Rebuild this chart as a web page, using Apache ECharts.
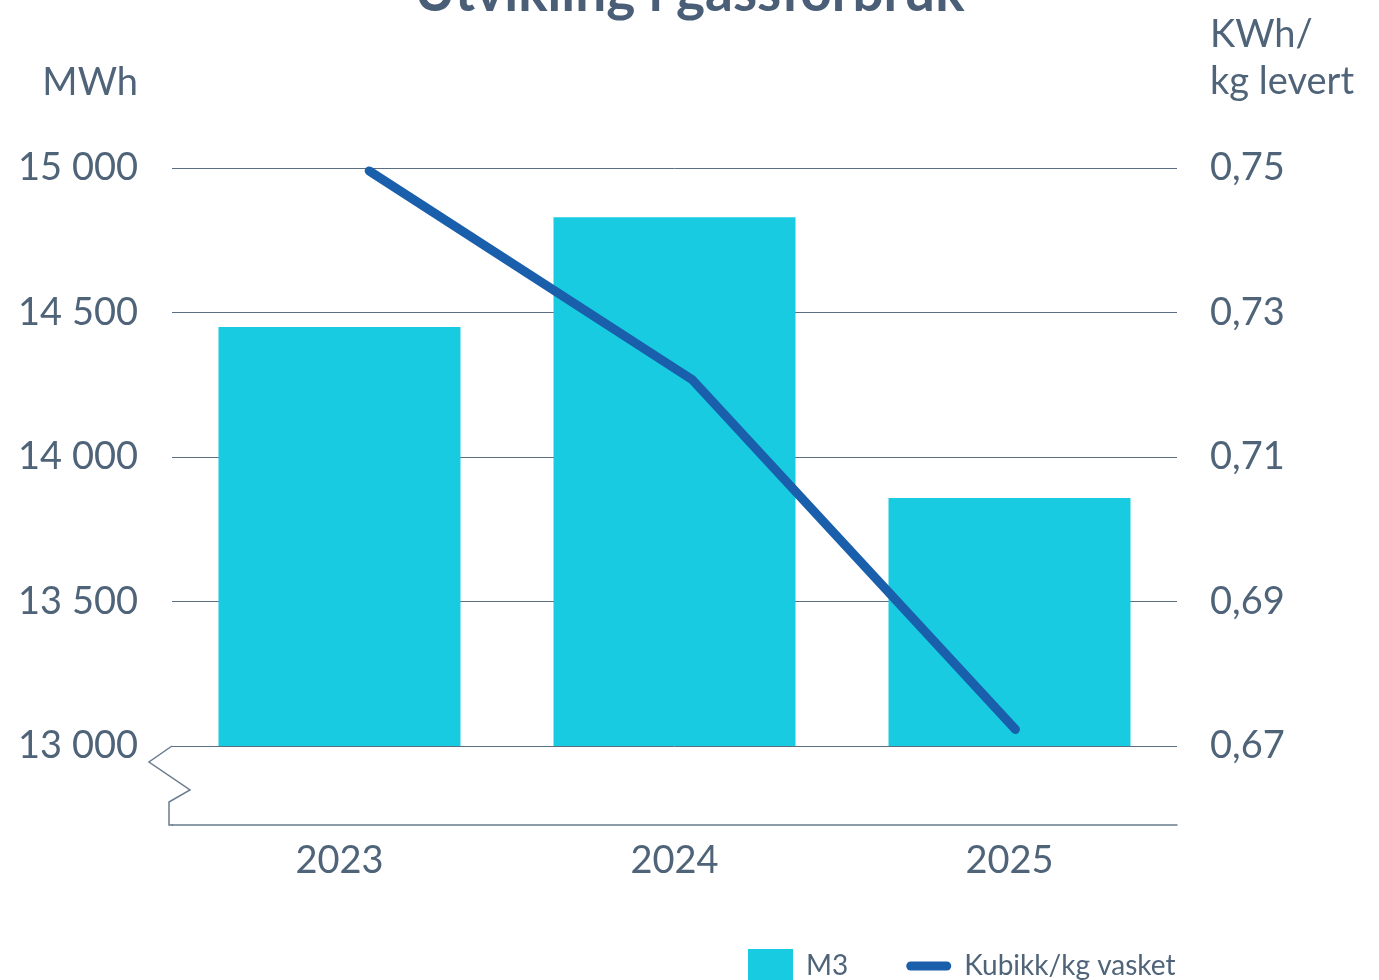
<!DOCTYPE html>
<html>
<head>
<meta charset="utf-8">
<script src="https://cdn.jsdelivr.net/npm/echarts@6/dist/echarts.min.js"></script>
<style>
html,body{margin:0;padding:0;background:#fff;}
#chart{width:1379px;height:980px;}
</style>
</head>
<body>
<div id="chart"></div>
<script>
const categories = ['2023', '2024', '2025'];
const m3Values = [14450, 14830, 13858];
const kwhPerKg = [0.7496, 0.7207, 0.6723];
const leftTicks = { min: 13000, max: 15000, interval: 500 };
const rightTicks = { min: 0.67, max: 0.75, interval: 0.02 };

const TXT = '#4f6479';
const FONT = 'Lato';
const FS = 38;

const chart = echarts.init(document.getElementById('chart'));
const option = {
  backgroundColor: '#ffffff',
  animation: false,
  title: [
    {
      text: 'Utvikling i gassforbruk',
      left: 'center',
      top: -39,
      textStyle: { fontFamily: FONT, fontWeight: 'bold', fontSize: 55, color: '#4a5f77' }
    },
    {
      text: 'MWh',
      right: 1379 - 138,
      top: 64,
      padding: 0,
      textStyle: { fontFamily: FONT, fontWeight: 'normal', fontSize: FS, color: TXT }
    }
  ],
  legend: {
    left: 748,
    top: 949,
    padding: 0,
    itemWidth: 45,
    itemHeight: 34,
    itemGap: 58,
    textStyle: { fontFamily: FONT, fontSize: 28, color: TXT, padding: [0, 0, 0, 8] },
    data: [
      { name: 'M3', icon: 'rect' },
      { name: 'Kubikk/kg vasket', icon: 'path://M4.5,0 L40.5,0 A4.5,4.5 0 0 1 40.5,9 L4.5,9 A4.5,4.5 0 0 1 4.5,0 Z' }
    ]
  },
  grid: { left: 172, right: 202, top: 168, bottom: 234, containLabel: false },
  xAxis: [
    {
      type: 'category',
      data: categories,
      offset: 79,
      axisLine: { show: true, lineStyle: { color: '#6a7c8e', width: 1.5 } },
      axisTick: { show: false },
      axisLabel: { fontFamily: FONT, fontSize: FS, color: TXT, margin: 17 }
    },
    {
      type: 'value',
      min: -0.61,
      max: 2.5,
      show: false
    }
  ],
  yAxis: [
    {
      type: 'value',
      min: leftTicks.min,
      max: leftTicks.max,
      interval: leftTicks.interval,
      axisLine: { show: false },
      axisTick: { show: false },
      splitLine: { show: true, lineStyle: { color: '#5c6f82', width: 1 } },
      axisLabel: {
        fontFamily: FONT, fontSize: FS, color: TXT, margin: 34,
        formatter: v => String(v).replace(/\B(?=(\d{3})+(?!\d))/g, ' ')
      }
    },
    {
      type: 'value',
      min: rightTicks.min,
      max: rightTicks.max,
      interval: rightTicks.interval,
      name: 'KWh/\nkg levert',
      nameLocation: 'end',
      nameGap: 110,
      nameTextStyle: { fontFamily: FONT, fontSize: FS, color: TXT, align: 'left', verticalAlign: 'middle', lineHeight: 47, padding: [0, 0, 0, 33] },
      axisLine: { show: false },
      axisTick: { show: false },
      splitLine: { show: false },
      axisLabel: {
        fontFamily: FONT, fontSize: FS, color: TXT, margin: 33,
        formatter: v => v.toFixed(2).replace('.', ',')
      }
    }
  ],
  graphic: [
    {
      type: 'polyline',
      shape: { points: [[172, 746], [149, 762], [190, 790], [169, 802], [169, 825], [173, 825]] },
      style: { stroke: '#6a7c8e', lineWidth: 1.5, fill: null },
      z: 10
    }
  ],
  series: [
    {
      name: 'M3',
      type: 'bar',
      xAxisIndex: 0,
      yAxisIndex: 0,
      data: m3Values,
      barWidth: 242,
      itemStyle: { color: '#19cbe0' },
      z: 2
    },
    {
      name: 'Kubikk/kg vasket',
      type: 'line',
      xAxisIndex: 1,
      yAxisIndex: 1,
      data: categories.map((c, i) => [i, kwhPerKg[i]]),
      symbol: 'none',
      lineStyle: { color: '#1a5fab', width: 9, cap: 'round', join: 'miter' },
      itemStyle: { color: '#1a5fab' },
      z: 3
    }
  ]
};
chart.setOption(option);
</script>
</body>
</html>
